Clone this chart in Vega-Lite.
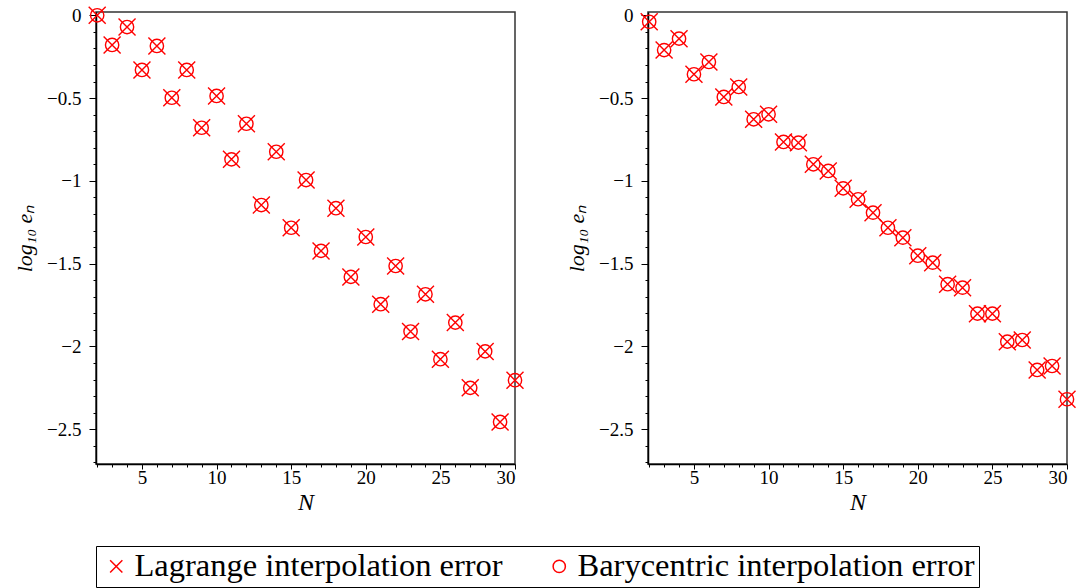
{
  "$schema": "https://vega.github.io/schema/vega-lite/v6.json",
  "background": "white",
  "padding": {"left": 12, "top": 3, "right": 8, "bottom": 2},
  "config": {
    "font": "Liberation Serif",
    "view": {"stroke": "#333333", "strokeWidth": 1.5},
    "axis": {
      "domainColor": "black", "domainWidth": 1.5, "tickColor": "black", "tickWidth": 1,
      "labelFont": "Liberation Serif", "labelFontSize": 19, "labelColor": "black",
      "titleFont": "Liberation Serif", "titleFontStyle": "italic", "titleFontWeight": "normal", "titleColor": "black",
      "grid": false
    },
    "legend": {
      "labelFont": "Liberation Serif", "labelFontSize": 32.5, "labelColor": "black", "labelLimit": 0
    }
  },
  "data": {"values": [
    {"N": 2, "L": 0.0, "R": -0.039},
    {"N": 3, "L": -0.179, "R": -0.21},
    {"N": 4, "L": -0.071, "R": -0.141},
    {"N": 5, "L": -0.33, "R": -0.356},
    {"N": 6, "L": -0.185, "R": -0.282},
    {"N": 7, "L": -0.498, "R": -0.493},
    {"N": 8, "L": -0.33, "R": -0.433},
    {"N": 9, "L": -0.679, "R": -0.628},
    {"N": 10, "L": -0.487, "R": -0.598},
    {"N": 11, "L": -0.87, "R": -0.765},
    {"N": 12, "L": -0.655, "R": -0.769},
    {"N": 13, "L": -1.146, "R": -0.9},
    {"N": 14, "L": -0.824, "R": -0.94},
    {"N": 15, "L": -1.283, "R": -1.045},
    {"N": 16, "L": -0.995, "R": -1.111},
    {"N": 17, "L": -1.423, "R": -1.192},
    {"N": 18, "L": -1.165, "R": -1.283},
    {"N": 19, "L": -1.58, "R": -1.343},
    {"N": 20, "L": -1.339, "R": -1.452},
    {"N": 21, "L": -1.745, "R": -1.494},
    {"N": 22, "L": -1.514, "R": -1.624},
    {"N": 23, "L": -1.91, "R": -1.645},
    {"N": 24, "L": -1.685, "R": -1.802},
    {"N": 25, "L": -2.077, "R": -1.802},
    {"N": 26, "L": -1.856, "R": -1.971},
    {"N": 27, "L": -2.25, "R": -1.961},
    {"N": 28, "L": -2.03, "R": -2.142},
    {"N": 29, "L": -2.456, "R": -2.118},
    {"N": 30, "L": -2.204, "R": -2.319}
  ]},
  "bounds": "flush",
  "spacing": 133,
  "resolve": {"scale": {"shape": "shared"}},
  "hconcat": [
    {
      "width": 419, "height": 452,
      "encoding": {
        "x": {"field": "N", "type": "quantitative",
          "scale": {"domain": [1.92, 30], "nice": false, "zero": false},
          "axis": {"title": "N", "titleFontSize": 24, "titlePadding": 3, "labelPadding": -1,
            "values": [2,3,4,5,6,7,8,9,10,11,12,13,14,15,16,17,18,19,20,21,22,23,24,25,26,27,28,29,30],
            "labelExpr": "datum.value % 5 === 0 ? datum.label : ''",
            "tickSize": {"condition": {"test": "datum.value % 5 === 0", "value": 5}, "value": 3}}},
        "y": {"field": "L", "type": "quantitative",
          "scale": {"domain": [-2.71, 0.02], "nice": false, "zero": false},
          "axis": {"title": "log₁₀ eₙ", "titleFontSize": 22, "titlePadding": 10, "labelPadding": 8, "format": "~g",
            "values": [0,-0.1,-0.2,-0.3,-0.4,-0.5,-0.6,-0.7,-0.8,-0.9,-1,-1.1,-1.2,-1.3,-1.4,-1.5,-1.6,-1.7,-1.8,-1.9,-2,-2.1,-2.2,-2.3,-2.4,-2.5,-2.6,-2.7],
            "labelExpr": "abs(datum.value*2 - round(datum.value*2)) < 1e-6 ? datum.label : ''",
            "tickSize": {"condition": {"test": "abs(datum.value*2 - round(datum.value*2)) < 1e-6", "value": 7}, "value": 3}}}
      },
      "layer": [
        {"mark": {"type": "point", "filled": false, "color": "red", "strokeWidth": 1.4, "size": 289, "opacity": 1},
         "encoding": {"shape": {"datum": "Lagrange interpolation error",
           "scale": {"domain": ["Lagrange interpolation error", "Barycentric interpolation error"], "range": ["M-1,-1L1,1M-1,1L1,-1", "circle"]},
           "legend": {"title": null, "orient": "bottom", "direction": "horizontal", "offset": 31,
             "strokeColor": "black", "padding": 4, "columnPadding": 40, "labelOffset": 2,
             "symbolStrokeColor": "red", "symbolFillColor": "transparent", "symbolStrokeWidth": 1.5, "symbolSize": 150,
             "encoding": {"symbols": {"update": {"size": {"signal": "datum.value === 'Lagrange interpolation error' ? 200 : 100"}}}}}}}},
        {"mark": {"type": "point", "filled": false, "color": "red", "strokeWidth": 1.4, "size": 177, "opacity": 1},
         "encoding": {"shape": {"datum": "Barycentric interpolation error"}}}
      ]
    },
    {
      "width": 419, "height": 452,
      "encoding": {
        "x": {"field": "N", "type": "quantitative",
          "scale": {"domain": [1.92, 30], "nice": false, "zero": false},
          "axis": {"title": "N", "titleFontSize": 24, "titlePadding": 3, "labelPadding": -1,
            "values": [2,3,4,5,6,7,8,9,10,11,12,13,14,15,16,17,18,19,20,21,22,23,24,25,26,27,28,29,30],
            "labelExpr": "datum.value % 5 === 0 ? datum.label : ''",
            "tickSize": {"condition": {"test": "datum.value % 5 === 0", "value": 5}, "value": 3}}},
        "y": {"field": "R", "type": "quantitative",
          "scale": {"domain": [-2.71, 0.02], "nice": false, "zero": false},
          "axis": {"title": "log₁₀ eₙ", "titleFontSize": 22, "titlePadding": 10, "labelPadding": 8, "format": "~g",
            "values": [0,-0.1,-0.2,-0.3,-0.4,-0.5,-0.6,-0.7,-0.8,-0.9,-1,-1.1,-1.2,-1.3,-1.4,-1.5,-1.6,-1.7,-1.8,-1.9,-2,-2.1,-2.2,-2.3,-2.4,-2.5,-2.6,-2.7],
            "labelExpr": "abs(datum.value*2 - round(datum.value*2)) < 1e-6 ? datum.label : ''",
            "tickSize": {"condition": {"test": "abs(datum.value*2 - round(datum.value*2)) < 1e-6", "value": 7}, "value": 3}}}
      },
      "layer": [
        {"mark": {"type": "point", "filled": false, "color": "red", "strokeWidth": 1.4, "size": 289, "opacity": 1},
         "encoding": {"shape": {"datum": "Lagrange interpolation error"}}},
        {"mark": {"type": "point", "filled": false, "color": "red", "strokeWidth": 1.4, "size": 177, "opacity": 1},
         "encoding": {"shape": {"datum": "Barycentric interpolation error"}}}
      ]
    }
  ]
}
